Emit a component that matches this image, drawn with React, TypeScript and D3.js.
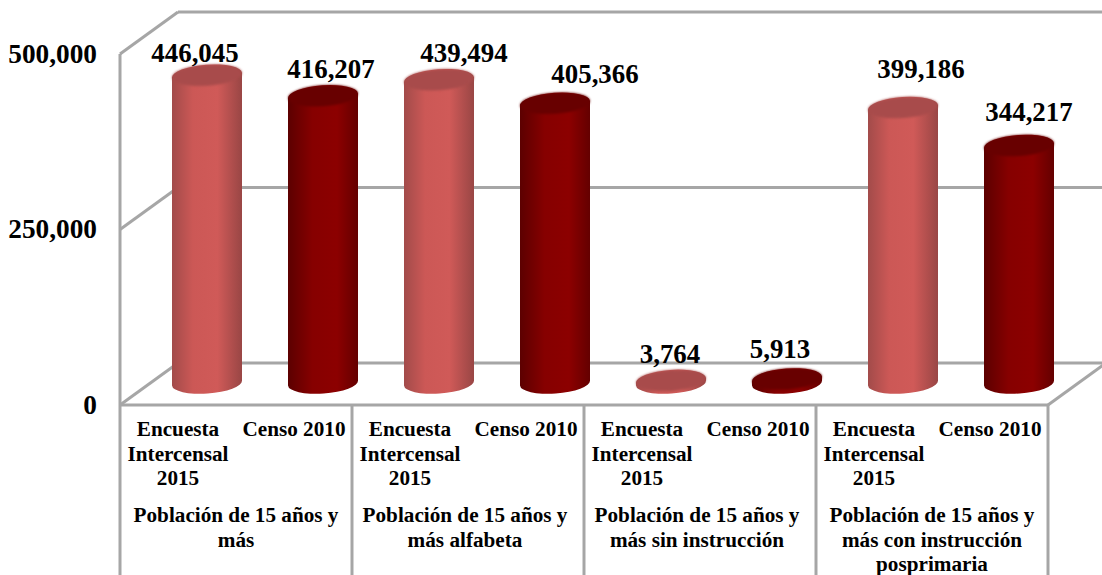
import { scaleBand, scaleLinear, format } from "d3";

const groups = [
  ["Población de 15 años y", "más"],
  ["Población de 15 años y", "más alfabeta"],
  ["Población de 15 años y", "más sin instrucción"],
  ["Población de 15 años y", "más con instrucción", "posprimaria"],
];
const surveyLabel = ["Encuesta", "Intercensal", "2015"];
const censusLabel = ["Censo 2010"];
const encuesta = [446045, 439494, 3764, 399186];
const censo = [416207, 405366, 5913, 344217];
const yTicks = [0, 250000, 500000];

// hand placed data labels, same as the source chart: [dx, dy] from the bar top
const labelNudge = [
  [-12, -13], [8, -18], [25, -18], [40, -20],
  [-1, -17], [-7, -21], [18, -30], [10, -24],
];
const groupNudge = [0, -3, -3, 0];

const width = 1102;
const height = 575;
const left = 120;
const right = 1048;
const floor = 405;
const depthX = 58;
const depthY = -42;
const grid = "#a6a6a6";
const serif = "'Liberation Serif', 'Times New Roman', serif";

const barValues = encuesta.flatMap((d, i) => [d, censo[i]]);

const x = scaleBand<number>()
  .domain(barValues.map((_, i) => i))
  .range([left, right]);
const yWall = scaleLinear().domain([0, 500000]).range([floor, 54]);
const yBar = scaleLinear().domain([0, 500000]).range([383, 38]);
const fmt = format(",");

const rx = 35;
const ry = 10.5;
const tilt = -4;
const dy = rx * Math.sin((-tilt * Math.PI) / 180);

const cylinder = (cx: number, top: number) =>
  `M${cx - rx},${top + dy}L${cx - rx},${383 + dy}` +
  `A${rx},${ry} ${tilt} 0 0 ${cx + rx},${383 - dy}` +
  `L${cx + rx},${top - dy}` +
  `A${rx},${ry} ${tilt} 0 0 ${cx - rx},${top + dy}Z`;

const Lines = ({ lines, cx, y0 }: { lines: string[]; cx: number; y0: number }) => (
  <text textAnchor="middle" fontSize={21.2} fontWeight="bold" fontFamily={serif} fill="#000">
    {lines.map((l, i) => (
      <tspan key={i} x={cx} y={y0 + i * 24.5}>
        {l}
      </tspan>
    ))}
  </text>
);

export default function App() {
  const bw = x.bandwidth();
  return (
    <svg
      width={width}
      height={height}
      style={{ position: "absolute", left: 0, top: 0, background: "#fff" }}
    >
      <defs>
        <linearGradient id="light">
          <stop offset="0" stopColor="#a24b4a" />
          <stop offset="0.3" stopColor="#cc5856" />
          <stop offset="0.65" stopColor="#d05a58" />
          <stop offset="1" stopColor="#994645" />
        </linearGradient>
        <linearGradient id="dark">
          <stop offset="0" stopColor="#5c0000" />
          <stop offset="0.35" stopColor="#860000" />
          <stop offset="0.7" stopColor="#8c0000" />
          <stop offset="1" stopColor="#640000" />
        </linearGradient>
        <filter id="soft" x="-10%" y="-30%" width="120%" height="160%">
          <feGaussianBlur stdDeviation="0.8" />
        </filter>
      </defs>

      {/* back wall and side wall */}
      <g stroke={grid} strokeWidth={3} fill="none">
        {yTicks.map((t) => (
          <g key={t}>
            <line x1={left} y1={yWall(t)} x2={left + depthX} y2={yWall(t) + depthY} />
            <line x1={left + depthX} y1={yWall(t) + depthY} x2={width} y2={yWall(t) + depthY} />
          </g>
        ))}
        <line x1={right} y1={floor} x2={right + depthX} y2={floor + depthY} />
        <line x1={left} y1={yWall(500000)} x2={left} y2={height} />
        <line x1={left} y1={floor} x2={right} y2={floor} />
        {groups.map((_, i) => {
          const gx = x(i * 2)! + 2 * bw;
          return <line key={i} x1={gx} y1={floor} x2={gx} y2={height} />;
        })}
      </g>

      {/* cylinders */}
      {barValues.map((d, i) => {
        const cx = x(i)! + bw / 2 + depthX / 2;
        const top = yBar(d);
        const isLight = i % 2 === 0;
        return (
          <g key={i}>
            <path d={cylinder(cx, top)} fill={`url(#${isLight ? "light" : "dark"})`} />
            <ellipse
              cx={cx}
              cy={top}
              rx={rx}
              ry={ry}
              transform={`rotate(${tilt} ${cx} ${top})`}
              fill={isLight ? "#a84c4b" : "#680000"}
              filter="url(#soft)"
            />
          </g>
        );
      })}

      {/* value labels */}
      {barValues.map((d, i) => (
        <text
          key={i}
          x={x(i)! + bw / 2 + depthX / 2 + labelNudge[i][0]}
          y={yBar(d) + labelNudge[i][1]}
          textAnchor="middle"
          fontSize={26.9}
          fontWeight="bold"
          fontFamily={serif}
          fill="#000"
        >
          {fmt(d)}
        </text>
      ))}

      {/* y axis labels */}
      {yTicks.map((t) => (
        <text
          key={t}
          x={97}
          y={yWall(t) + 8.5}
          textAnchor="end"
          fontSize={27.3}
          fontWeight="bold"
          fontFamily={serif}
          fill="#000"
        >
          {fmt(t)}
        </text>
      ))}

      {/* category labels */}
      {barValues.map((_, i) => (
        <Lines
          key={i}
          lines={i % 2 === 0 ? surveyLabel : censusLabel}
          cx={x(i)! + bw / 2}
          y0={436}
        />
      ))}
      {groups.map((g, i) => (
        <Lines key={i} lines={g} cx={x(i * 2)! + bw + groupNudge[i]} y0={522} />
      ))}
    </svg>
  );
}
